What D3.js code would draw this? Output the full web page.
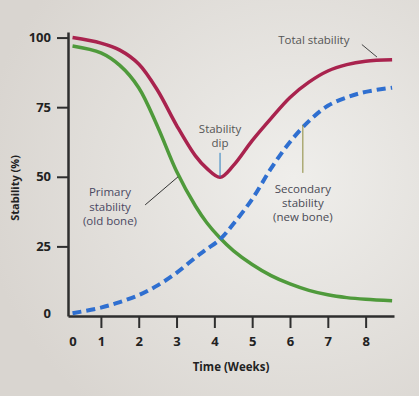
<!DOCTYPE html>
<html>
<head>
<meta charset="utf-8">
<script src="https://cdn.jsdelivr.net/npm/d3@7"></script>
<style>
  body { margin: 0; background: #e3e0dc; }
  svg { display: block; font-family: "Open Sans", sans-serif; }
</style>
</head>
<body>
<div id="chart"></div>
<script>
// Data
const weeks     = [0.25, 1, 1.5, 2, 2.5, 3, 3.5, 3.8, 4.15, 4.5, 5, 5.5, 6, 6.5, 7, 7.5, 8, 8.7];
const total     = [100, 98, 95.5, 90.5, 81, 68.5, 57.5, 53, 49.8, 54, 63, 71, 78.5, 84, 88, 90.3, 91.5, 92];
const primary   = [97, 94.5, 90, 82, 68, 52, 39.5, 33.5, 28, 23.5, 18.5, 14.5, 11.5, 9.2, 7.6, 6.6, 6, 5.5];
const secondary = [1, 3, 5, 7.5, 11, 15.5, 21, 24, 27.5, 33, 42, 53, 62.5, 70, 75.5, 78.5, 80.5, 82];
const xTicks = [1, 2, 3, 4, 5, 6, 7, 8];
const yTicks = [0, 25, 50, 75, 100];

const W = 419, H = 396;

const svg = d3.select("#chart")
    .append("svg")
    .attr("width", W)
    .attr("height", H);

// soft background
const grad = svg.append("defs").append("radialGradient")
    .attr("id", "bg")
    .attr("cx", "70%").attr("cy", "45%").attr("r", "75%");
grad.append("stop").attr("offset", "0%").attr("stop-color", "#efeeeb");
grad.append("stop").attr("offset", "100%").attr("stop-color", "#d9d5d0");
svg.append("rect").attr("width", W).attr("height", H).attr("fill", "url(#bg)");

// Scales
const x = d3.scaleLinear().domain([0.13, 8.75]).range([68, 394]);
const y = d3.scaleLinear().domain([0, 102]).range([316, 32]);

// Axes
const xAxis = svg.append("g")
    .attr("transform", `translate(0,${y(0)})`)
    .call(d3.axisBottom(x).tickValues([0.25].concat(xTicks)).tickFormat(d => Math.round(d))
        .tickSize(12).tickSizeOuter(0).tickPadding(9));

const yAxis = svg.append("g")
    .attr("transform", `translate(${x(0.13)},0)`)
    .call(d3.axisLeft(y).tickValues(yTicks).tickSize(11).tickSizeOuter(0).tickPadding(6));

[xAxis, yAxis].forEach(g => {
    g.select(".domain").attr("stroke", "#2e2e2e").attr("stroke-width", 2.5);
    g.selectAll(".tick line").attr("stroke", "#2e2e2e").attr("stroke-width", 2);
    g.selectAll(".tick text")
        .attr("fill", "#222")
        .style("font-size", "13px")
        .style("font-weight", "bold")
        .style("font-family", "'Open Sans', sans-serif");
});
// the zeros carry no tick mark
xAxis.selectAll(".tick").filter(d => d < 1).select("line").remove();
yAxis.selectAll(".tick").filter(d => d === 0).select("line").remove();
yAxis.selectAll(".tick").filter(d => d === 0).select("text").attr("y", -3);

// Axis titles
svg.append("text")
    .attr("x", 231).attr("y", 371)
    .attr("text-anchor", "middle")
    .style("font-size", "11.5px").style("font-weight", "bold")
    .attr("fill", "#222")
    .text("Time (Weeks)");

svg.append("text")
    .attr("transform", `translate(19,${y(46)}) rotate(-90)`)
    .attr("text-anchor", "middle")
    .style("font-size", "11px").style("font-weight", "bold")
    .attr("fill", "#222")
    .text("Stability (%)");

// Lines
const line = vals => d3.line()
    .x((d, i) => x(weeks[i]))
    .y(d => y(d))
    .curve(d3.curveCatmullRom.alpha(0.5))(vals);

svg.append("path").attr("d", line(primary))
    .attr("fill", "none").attr("stroke", "#4f9a3b").attr("stroke-width", 3.5);

svg.append("path").attr("d", line(secondary))
    .attr("fill", "none").attr("stroke", "#2f6fd0").attr("stroke-width", 4)
    .attr("stroke-dasharray", "9,5");

svg.append("path").attr("d", line(total))
    .attr("fill", "none").attr("stroke", "#a9234e").attr("stroke-width", 3.5);

// Annotations
const labels = [
    { lines: ["Total stability"], wx: 6.63, vy: [99.3], color: "#555" },
    { lines: ["Stability", "dip"], wx: 4.15, vy: [67.2, 62.2], color: "#555" },
    { lines: ["Primary", "stability", "(old bone)"], wx: 1.24, vy: [44.4, 39.2, 34.0], color: "#4a4862" },
    { lines: ["Secondary", "stability", "(new bone)"], wx: 6.34, vy: [45.6, 40.6, 35.6], color: "#4a4a55" }
];
labels.forEach(l => {
    l.lines.forEach((t, i) => {
        svg.append("text")
            .attr("x", x(l.wx)).attr("y", y(l.vy[i]))
            .attr("dy", "0.35em")
            .attr("text-anchor", "middle")
            .style("font-size", "11.5px")
            .attr("fill", l.color)
            .text(t);
    });
});

const leaders = [
    { from: [7.9, 97.5], to: [8.3, 93], color: "#444" },
    { from: [4.15, 58.6], to: [4.15, 50], color: "#2a7fc0" },
    { from: [2.17, 39.9], to: [3.04, 50], color: "#333" },
    { from: [6.34, 51.4], to: [6.34, 68.6], color: "#8c8a3a" }
];
leaders.forEach(l => {
    svg.append("line")
        .attr("x1", x(l.from[0])).attr("y1", y(l.from[1]))
        .attr("x2", x(l.to[0])).attr("y2", y(l.to[1]))
        .attr("stroke", l.color).attr("stroke-width", 1);
});
</script>
</body>
</html>
